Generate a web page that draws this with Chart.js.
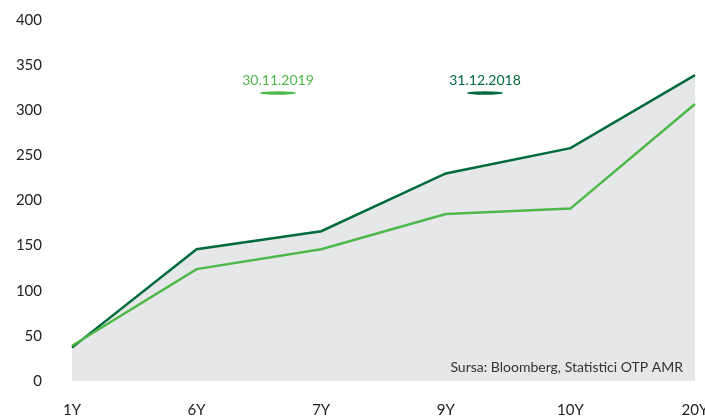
<!DOCTYPE html>
<html>
<head>
<meta charset="utf-8">
<script src="https://cdn.jsdelivr.net/npm/chart.js@4/dist/chart.umd.min.js"></script>
<style>
  html, body { margin: 0; padding: 0; background: #fff; }
  #wrap { width: 705px; height: 420px; }
</style>
</head>
<body>
<div id="wrap"><canvas id="yieldChart"></canvas></div>
<script>
// maturities on the x axis
const maturities = ['1Y', '6Y', '7Y', '9Y', '10Y', '20Y'];
// yield curve values (bps)
const curve2018 = [37, 146, 166, 230, 258, 339];
const curve2019 = [39, 124, 146, 185, 191, 307];
const yTicks = [0, 50, 100, 150, 200, 250, 300, 350, 400];
const sourceNote = 'Sursa: Bloomberg, Statistici OTP AMR';

const darkGreen = '#006b3d';
const lightGreen = '#4fb84a';
const fontFamily = 'Lato, "Open Sans", sans-serif';

// legend drawn as text with a small lens-shaped line underneath
const topLegend = {
    id: 'topLegend',
    afterDraw(chart) {
        const ctx = chart.ctx;
        const items = [
            { ds: chart.data.datasets[1], x: 278 },
            { ds: chart.data.datasets[0], x: 485 },
        ];
        ctx.save();
        ctx.font = '14px ' + fontFamily;
        ctx.textAlign = 'center';
        ctx.textBaseline = 'middle';
        items.forEach(it => {
            ctx.fillStyle = it.ds.borderColor;
            ctx.fillText(it.ds.label, it.x, 80);
            ctx.beginPath();
            ctx.ellipse(it.x, 93, 18, 1.7, 0, 0, Math.PI * 2);
            ctx.fill();
        });
        // source note inside the plot
        ctx.fillStyle = '#333';
        ctx.font = '14px ' + fontFamily;
        ctx.textAlign = 'right';
        ctx.fillText(sourceNote, 683, 367);
        ctx.restore();
    }
};

const ctx = document.getElementById('yieldChart').getContext('2d');
new Chart(ctx, {
    type: 'line',
    data: {
        labels: maturities,
        datasets: [
            {
                label: '31.12.2018',
                data: curve2018,
                borderColor: darkGreen,
                backgroundColor: '#e6e7e8',
                borderWidth: 2.5,
                fill: 'origin',
                pointRadius: 0,
                tension: 0,
                order: 2,
            },
            {
                label: '30.11.2019',
                data: curve2019,
                borderColor: lightGreen,
                borderWidth: 2.5,
                fill: false,
                pointRadius: 0,
                tension: 0,
                order: 1,
            }
        ]
    },
    options: {
        responsive: true,
        maintainAspectRatio: false,
        animation: false,
        layout: { padding: { top: 20, right: 10, left: 0, bottom: 0 } },
        plugins: {
            legend: { display: false },
            tooltip: { enabled: false },
        },
        scales: {
            x: {
                offset: false,
                grid: { display: false, drawTicks: false },
                border: { display: false },
                ticks: {
                    color: '#222',
                    font: { family: fontFamily, size: 15 },
                    padding: 20,
                    maxRotation: 0,
                    autoSkip: false,
                },
                afterFit(scale) {
                    scale.height = 39;
                    scale.paddingLeft = 0;
                    scale.paddingRight = 0;
                }
            },
            y: {
                min: 0,
                max: 400,
                grid: { display: false, drawTicks: false },
                border: { display: false },
                afterBuildTicks(scale) {
                    scale.ticks = yTicks.map(v => ({ value: v }));
                },
                ticks: {
                    color: '#222',
                    font: { family: fontFamily, size: 15 },
                    padding: 30,
                },
                afterFit(scale) {
                    scale.width = 72;
                    scale.paddingTop = 0;
                    scale.paddingBottom = 0;
                }
            }
        }
    },
    plugins: [topLegend]
});
</script>
</body>
</html>
